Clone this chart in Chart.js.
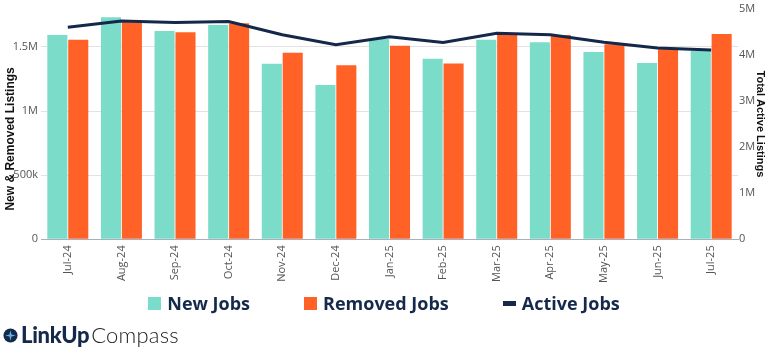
<!DOCTYPE html>
<html><head><meta charset="utf-8">
<script src="https://cdn.jsdelivr.net/npm/chart.js@4.4.1/dist/chart.umd.min.js"></script>
<style>
html,body{margin:0;padding:0;background:#fff;}
#wrap{position:relative;width:768px;height:357px;overflow:hidden;background:#fff;}
#c{position:absolute;left:0;top:0;}
#legend{position:absolute;top:291px;left:0;width:768px;display:flex;justify-content:center;align-items:center;font-family:'Open Sans',sans-serif;font-weight:700;font-size:18px;color:#15294b;line-height:24px;}
.item{display:flex;align-items:center;margin:0 27px;}
.sw{width:13px;height:13px;margin-right:6px;}
.ln{width:13px;height:5px;margin-right:6px;background:#15294b;}
#logo{position:absolute;left:3px;top:322px;display:flex;align-items:center;font-family:Lato,sans-serif;color:#15294b;font-size:22px;line-height:26px;}
#logo b{font-weight:900;letter-spacing:-0.3px;}
#logo span.l{font-weight:300;color:#222;margin-left:2px;letter-spacing:0.2px;}
</style></head>
<body>
<div id="wrap">
<canvas id="c" width="768" height="357"></canvas>
<div id="legend">
  <div class="item"><div class="sw" style="background:#7adcc9"></div>New Jobs</div>
  <div class="item"><div class="sw" style="background:#ff6127"></div>Removed Jobs</div>
  <div class="item"><div class="ln"></div>Active Jobs</div>
</div>
<div id="logo">
  <svg width="15" height="15" viewBox="0 0 16 16" style="margin-right:3px">
    <circle cx="8" cy="8" r="7.5" fill="#15294b"/>
    <path d="M8 2.5 L9.1 6.9 L13.5 8 L9.1 9.1 L8 13.5 L6.9 9.1 L2.5 8 L6.9 6.9 Z" fill="#5fb3e6"/>
  </svg>
  <b>LinkUp</b><span class="l">Compass</span>
</div>
</div>
<script>
const categories = ['Jul-24','Aug-24','Sep-24','Oct-24','Nov-24','Dec-24','Jan-25','Feb-25','Mar-25','Apr-25','May-25','Jun-25','Jul-25'];
const newJobs = [1594000, 1731000, 1625000, 1672000, 1370000, 1204000, 1563000, 1409000, 1556000, 1537000, 1460000, 1375000, 1471000];
const removedJobs = [1556000, 1693000, 1615000, 1684000, 1455000, 1357000, 1509000, 1372000, 1601000, 1594000, 1522000, 1483000, 1602000];
const activeJobs = [4594000, 4731000, 4695000, 4716000, 4430000, 4215000, 4387000, 4265000, 4465000, 4430000, 4271000, 4142000, 4099000];
const leftTicks = [0, 500000, 1000000, 1500000];
const rightTicks = [0, 1000000, 2000000, 3000000, 4000000, 5000000];

function fmt(v){
  if (v === 0) return '0';
  if (v >= 1000000) return (v/1000000) + 'M';
  return (v/1000) + 'k';
}

new Chart(document.getElementById('c'), {
  data: {
    labels: categories,
    datasets: [
      { type:'line', label:'Active Jobs', data: activeJobs, yAxisID:'y2', borderColor:'#13284a', borderWidth:3, pointRadius:0, tension:0, fill:false, order:0 },
      { type:'bar', label:'New Jobs', data: newJobs, yAxisID:'y', backgroundColor:'#7adcc9', borderWidth:0, categoryPercentage:0.78, barPercentage:0.96, order:1 },
      { type:'bar', label:'Removed Jobs', data: removedJobs, yAxisID:'y', backgroundColor:'#ff6127', borderWidth:0, categoryPercentage:0.78, barPercentage:0.96, order:1 }
    ]
  },
  options: {
    responsive:false,
    animation:false,
    layout:{ padding:{ top:0, left:0, right:0, bottom:67.7 } },
    plugins:{ legend:{display:false}, tooltip:{enabled:false} },
    scales:{
      x:{
        grid:{display:false, drawTicks:false},
        border:{display:true, color:'#a7b0be', width:1},
        ticks:{ minRotation:90, maxRotation:90, padding:6, color:'#555', font:{family:'Open Sans', size:11} },
        afterFit:(s)=>{ s.height = 50; }
      },
      y:{
        position:'left', min:0, max:1800000,
        grid:{ color:'#e2e2e2', drawTicks:false },
        border:{display:false},
        ticks:{ padding:3, color:'#555', font:{family:'Open Sans', size:11, lineHeight:1.0}, callback:(v)=>fmt(v) },
        afterBuildTicks:(s)=>{ s.ticks = leftTicks.map(v=>({value:v})); },
        title:{ display:true, text:'New & Removed Listings         ', color:'#111', font:{family:'Liberation Sans', size:12, weight:'bold'}, padding:{top:3,bottom:0} },
        afterFit:(s)=>{ s.width = 41; }
      },
      y2:{
        position:'right', min:0, max:5000000,
        grid:{ display:false, drawTicks:false },
        border:{display:false},
        ticks:{ padding:1, color:'#555', font:{family:'Open Sans', size:11, lineHeight:1.0}, callback:(v)=>fmt(v) },
        afterBuildTicks:(s)=>{ s.ticks = rightTicks.map(v=>({value:v})); },
        title:{ display:true, text:'Total Active Listings', color:'#111', font:{family:'Liberation Sans', size:11, weight:'bold'}, padding:{top:1,bottom:0} },
        afterFit:(s)=>{ s.width = 30; }
      }
    }
  }
});
</script>
</body></html>
